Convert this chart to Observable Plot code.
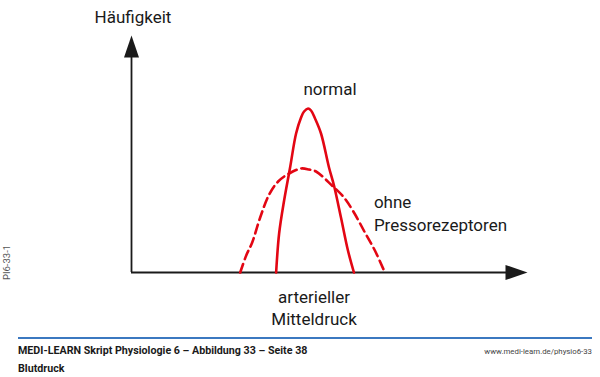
<!DOCTYPE html>
<html>
<head>
<meta charset="utf-8">
<script src="https://cdn.jsdelivr.net/npm/d3@7"></script>
<script src="https://cdn.jsdelivr.net/npm/@observablehq/plot@0.6"></script>
<style>
  html, body { margin: 0; padding: 0; background: #fff; }
  #wrap { position: relative; width: 600px; height: 377px; overflow: hidden; font-family: Roboto, "Noto Sans", sans-serif; }
  #wrap svg { display: block; }
  .rule { position: absolute; left: 18px; width: 574px; top: 337px; height: 2px; background: #3b78c0; }
  .f { position: absolute; line-height: 1; white-space: nowrap; }
  .title { left: 18px; top: 346px; font-size: 10.7px; font-weight: bold; color: #1a1a1a; }
  .sub { left: 18px; top: 364px; font-size: 10.7px; font-weight: bold; color: #1a1a1a; }
  .url { right: 8px; top: 348px; font-size: 7.8px; color: #444; }
</style>
</head>
<body>
<div id="wrap"></div>
<script>
// Axis extents (arbitrary units: Mitteldruck / Häufigkeit)
const xMax = 397;
const yMax = 237;

// "normal" distribution (solid)
const normalX = [145, 148, 153, 159, 165, 170, 173, 177, 180, 184, 190, 198, 203, 210, 217, 223];
const normalY = [0, 39, 72, 105, 139, 155, 161, 164, 162, 154, 139, 105, 87, 55, 22, 0];

// "ohne Pressorezeptoren" distribution (dashed)
const ohneX = [109, 115, 121, 129, 138, 147, 158, 170, 178, 185, 201, 213, 223, 234, 244, 254];
const ohneY = [0, 17, 30, 55, 78, 91, 99, 104, 103, 101, 87, 75, 60, 40, 22, 0];

// Labels
const labelText = ["Häufigkeit", "normal", "ohne", "Pressorezeptoren", "arterieller", "Mitteldruck"];
const labelX = [1.5, 199, 243, 243, 183, 183];
const labelY = [250, 178, 65, 42, -30, -52];
const labelAnchor = ["middle", "middle", "start", "start", "middle", "middle"];

const footerTitle = "MEDI-LEARN Skript Physiologie 6 – Abbildung 33 – Seite 38";
const footerSub = "Blutdruck";
const footerUrl = "www.medi-learn.de/physio6-33";
const figId = "PI6-33-1";

const normal = normalX.map((x, i) => ({x, y: normalY[i]}));
const ohne = ohneX.map((x, i) => ({x, y: ohneY[i]}));
const labels = labelText.map((t, i) => ({t, x: labelX[i], y: labelY[i], a: labelAnchor[i]}));

// filled, elongated arrowhead with its tip at the origin, pointing up
const arrowHead = {
  draw(context) {
    context.moveTo(0, 0);
    context.lineTo(7.5, 22);
    context.lineTo(-7.5, 22);
    context.closePath();
  }
};

const red = "#e30613";
const ink = "#1a1a1a";

const chart = Plot.plot({
  width: 600,
  height: 330,
  marginLeft: 131,
  marginRight: 73,
  marginTop: 35,
  marginBottom: 58,
  x: {domain: [0, xMax], axis: null},
  y: {domain: [0, yMax], axis: null},
  style: {fontFamily: "Roboto, 'Noto Sans', sans-serif", background: "#fff"},
  marks: [
    Plot.ruleX([0], {y1: 0, y2: yMax - 10, stroke: ink, strokeWidth: 1.8}),
    Plot.ruleY([0], {x1: 0, x2: xMax - 10, stroke: ink, strokeWidth: 1.8}),
    Plot.dot([{x: 0, y: yMax}], {x: "x", y: "y", symbol: arrowHead, fill: ink, stroke: "none"}),
    Plot.dot([{x: xMax, y: 0}], {x: "x", y: "y", symbol: arrowHead, fill: ink, stroke: "none", rotate: 90}),
    Plot.line(ohne, {x: "x", y: "y", curve: "catmull-rom", stroke: red, strokeWidth: 2.6, strokeDasharray: "9,5"}),
    Plot.line(normal, {x: "x", y: "y", curve: "catmull-rom", stroke: red, strokeWidth: 2.6}),
    Plot.text(labels.filter(d => d.a === "middle"), {x: "x", y: "y", text: "t", textAnchor: "middle", lineAnchor: "bottom", fontSize: 17, fill: ink}),
    Plot.text(labels.filter(d => d.a === "start"), {x: "x", y: "y", text: "t", textAnchor: "start", lineAnchor: "bottom", fontSize: 17, fill: ink}),
    Plot.text([{t: figId, x: -125, y: 10}], {x: "x", y: "y", text: "t", rotate: -90, fontSize: 9.5, fill: "#555"})
  ]
});

const wrap = document.getElementById("wrap");
wrap.appendChild(chart);
const rule = document.createElement("div"); rule.className = "rule"; wrap.appendChild(rule);
const t1 = document.createElement("div"); t1.className = "f title"; t1.textContent = footerTitle; wrap.appendChild(t1);
const t2 = document.createElement("div"); t2.className = "f sub"; t2.textContent = footerSub; wrap.appendChild(t2);
const t3 = document.createElement("div"); t3.className = "f url"; t3.textContent = footerUrl; wrap.appendChild(t3);
</script>
</body>
</html>
